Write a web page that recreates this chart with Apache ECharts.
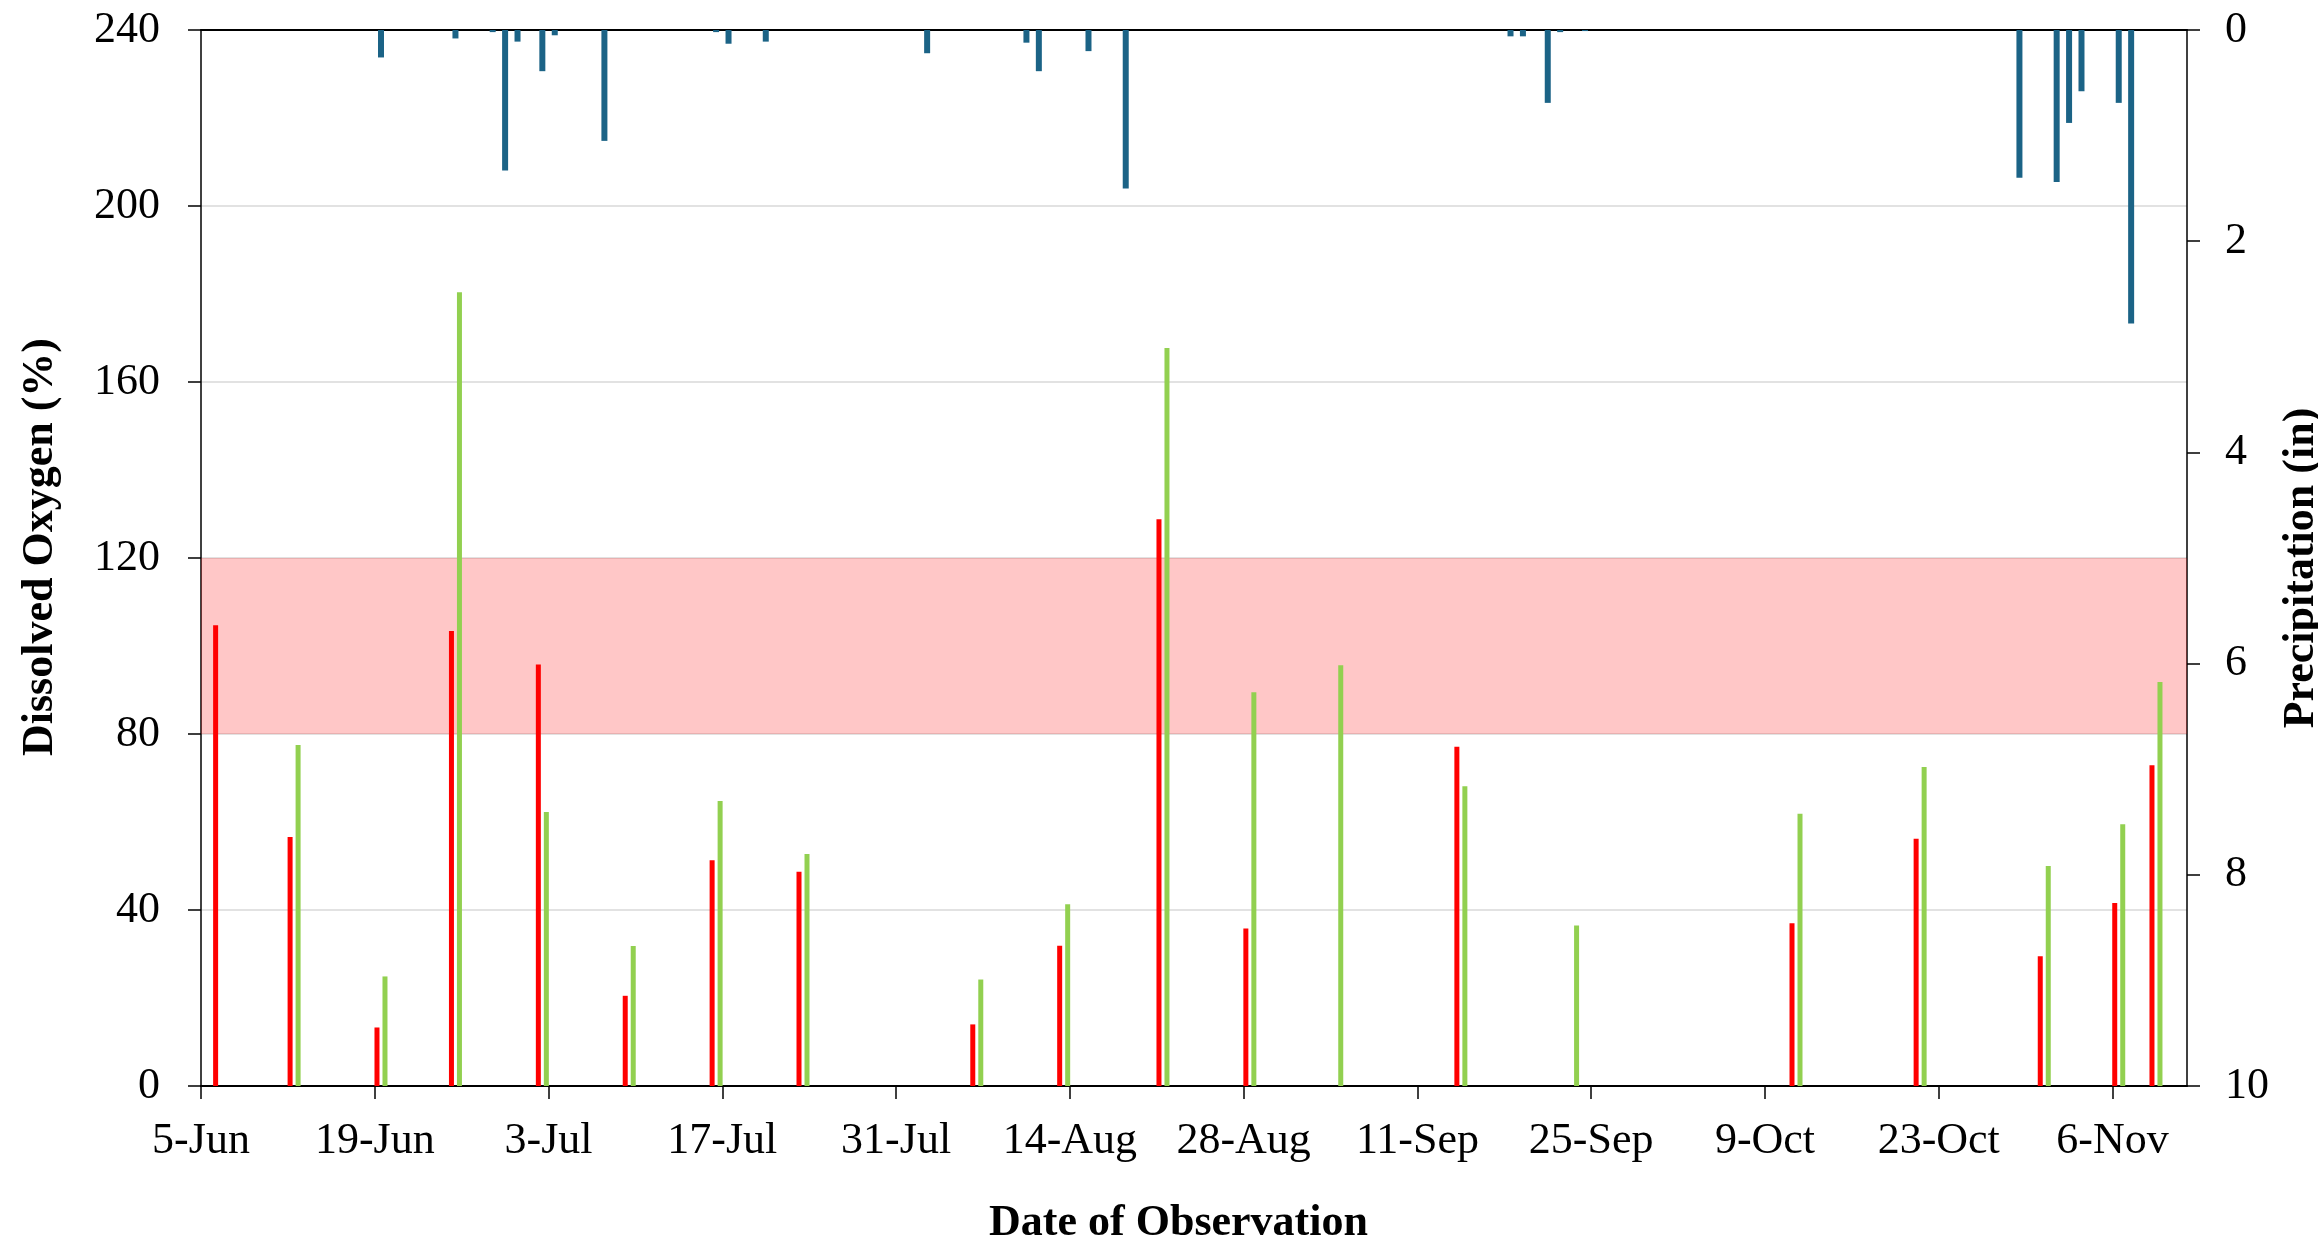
<!DOCTYPE html>
<html><head><meta charset="utf-8">
<script src="https://cdn.jsdelivr.net/npm/echarts@6/dist/echarts.min.js"></script>
<style>html,body{margin:0;padding:0;background:#fff}#c{width:2318px;height:1246px}</style>
</head><body><div id="c"></div>
<script>
// ---- data ----
const startDate = '06-05';
const xTickDays = [0,14,28,42,56,70,84,98,112,126,140,154];
const xTickLabels = ['5-Jun','19-Jun','3-Jul','17-Jul','31-Jul','14-Aug','28-Aug','11-Sep','25-Sep','9-Oct','23-Oct','6-Nov'];
const redDates = ['06-06','06-12','06-19','06-25','07-02','07-09','07-16','07-23','08-06','08-13','08-21','08-28','09-14','10-11','10-21','10-31','11-06','11-09'];
const redValues = [104.7,56.6,13.3,103.4,95.8,20.5,51.3,48.7,14.0,31.9,128.8,35.8,77.1,37.0,56.2,29.5,41.6,72.9];
const greenDates = ['06-12','06-19','06-25','07-02','07-09','07-16','07-23','08-06','08-13','08-21','08-28','09-04','09-14','09-23','10-11','10-21','10-31','11-06','11-09'];
const greenValues = [77.5,24.9,180.4,62.3,31.8,64.8,52.7,24.2,41.3,167.7,89.5,95.6,68.1,36.5,61.9,72.5,50.0,59.5,91.8];
const precipDates = ['06-19','06-25','06-28','06-29','06-30','07-02','07-03','07-07','07-16','07-17','07-20','08-02','08-10','08-11','08-15','08-18','09-18','09-19','09-21','09-22','09-24','10-29','11-01','11-02','11-03','11-06','11-07'];
const precipValues = [0.26,0.08,0.02,1.33,0.11,0.39,0.05,1.05,0.02,0.13,0.11,0.22,0.12,0.39,0.20,1.50,0.06,0.06,0.69,0.02,0.01,1.40,1.44,0.88,0.58,0.69,2.78];
const bandLow = 80, bandHigh = 120;

// ---- helpers ----
function dayOf(s) {
  const [m, d] = s.split('-').map(Number);
  const [m0, d0] = startDate.split('-').map(Number);
  return Math.round((Date.UTC(2023, m - 1, d) - Date.UTC(2023, m0 - 1, d0)) / 86400000);
}
const pairs = (dates, vals) => dates.map((s, i) => [dayOf(s) + 0.5, vals[i]]);
const labelMap = {};
xTickDays.forEach((d, i) => labelMap[d] = xTickLabels[i]);

const FONT = 'Liberation Serif';
const chart = echarts.init(document.getElementById('c'));
chart.setOption({
  animation: false,
  backgroundColor: '#fff',
  grid: { left: 201, right: 131, top: 30, bottom: 160, containLabel: false, outerBoundsMode: 'none' },
  xAxis: [{
    type: 'value', min: 0, max: 160, position: 'bottom',
    axisLine: { show: true, onZero: false, lineStyle: { color: '#000', width: 2 } },
    axisTick: { show: true, customValues: xTickDays, length: 13, lineStyle: { color: '#000', width: 1.5 } },
    axisLabel: { customValues: xTickDays, formatter: v => labelMap[v] || '', fontFamily: FONT, fontSize: 44, color: '#000', margin: 33 },
    splitLine: { show: false },
    name: 'Date of Observation', nameLocation: 'middle', nameGap: 116,
    nameTextStyle: { fontFamily: FONT, fontSize: 44, fontWeight: 'bold', color: '#000', padding: [0, 31, 0, 0] }
  }, {
    type: 'value', min: 0, max: 160, position: 'top',
    axisLine: { show: true, onZero: false, lineStyle: { color: '#000', width: 2 } },
    axisTick: { show: false }, axisLabel: { show: false }, splitLine: { show: false }
  }],
  yAxis: [{
    type: 'value', min: 0, max: 240, interval: 40, position: 'left',
    axisLine: { show: true, onZero: false, lineStyle: { color: '#000', width: 1.5 } },
    axisTick: { show: true, length: 13, lineStyle: { color: '#000', width: 1.5 } },
    axisLabel: { fontFamily: FONT, fontSize: 44, color: '#000', margin: 41 },
    splitLine: { show: true, lineStyle: { color: '#d9d9d9', width: 1.5 } },
    name: 'Dissolved Oxygen (%)', nameLocation: 'middle', nameGap: 138, nameRotate: 90,
    nameTextStyle: { fontFamily: FONT, fontSize: 44, fontWeight: 'bold', color: '#000', padding: [0, 0, 0, 22] }
  }, {
    type: 'value', min: 0, max: 10, interval: 2, inverse: true, position: 'right',
    axisLine: { show: true, onZero: false, lineStyle: { color: '#000', width: 1.5 } },
    axisTick: { show: true, length: 13, lineStyle: { color: '#000', width: 1.5 } },
    axisLabel: { fontFamily: FONT, fontSize: 44, color: '#000', margin: 38 },
    splitLine: { show: false },
    name: 'Precipitation (in)', nameLocation: 'middle', nameGap: 79, nameRotate: 90,
    nameTextStyle: { fontFamily: FONT, fontSize: 44, fontWeight: 'bold', color: '#000', padding: [0, 20, 0, 0] }
  }],
  series: [{
    name: 'Site A', type: 'bar', xAxisIndex: 0, yAxisIndex: 0,
    barWidth: 5, barGap: '60%', itemStyle: { color: '#ff0000' },
    data: pairs(redDates, redValues), z: 2
  }, {
    name: 'Site B', type: 'bar', xAxisIndex: 0, yAxisIndex: 0,
    barWidth: 5, barGap: '60%', itemStyle: { color: '#92d050' },
    data: pairs(greenDates, greenValues), z: 2
  }, {
    name: 'Precipitation', type: 'bar', xAxisIndex: 1, yAxisIndex: 1,
    barWidth: 6, itemStyle: { color: '#1b6386' },
    data: pairs(precipDates, precipValues), z: 2
  }, {
    name: 'Band', type: 'line', xAxisIndex: 0, yAxisIndex: 0, data: [], z: 10,
    markArea: { silent: true, itemStyle: { color: 'rgba(255,0,0,0.22)' },
      data: [[{ yAxis: bandLow }, { yAxis: bandHigh }]] }
  }]
});
</script></body></html>
